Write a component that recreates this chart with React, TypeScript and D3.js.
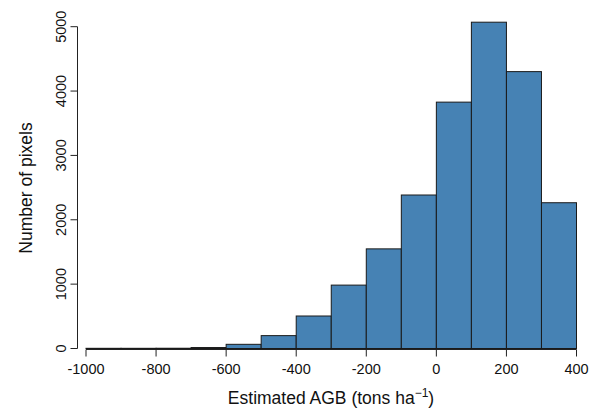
import React, { useRef, useEffect } from 'react'
import * as d3 from 'd3'

// histogram bins (tons ha^-1), width 100
const binStarts = [-1000, -900, -800, -700, -600, -500, -400, -300, -200, -100, 0, 100, 200, 300]
const counts = [3, 3, 4, 15, 65, 200, 505, 985, 1548, 2385, 3828, 5070, 4302, 2265]
const xTicks = [-1000, -800, -600, -400, -200, 0, 200, 400]
const yTicks = [0, 1000, 2000, 3000, 4000, 5000]

const W = 590
const H = 410

const App = () => {
    const ref = useRef(null)

    useEffect(() => {
        const svg = d3.select(ref.current)
        svg.selectAll('*').remove()

        const x = d3.scaleLinear().domain([-1000, 400]).range([86, 576.5])
        const y = d3.scaleLinear().domain([0, 5000]).range([348.5, 26.7])
        const font = 'Liberation Sans, Arial, Helvetica, sans-serif'

        // bars
        svg.append('g')
            .selectAll('rect')
            .data(binStarts)
            .enter()
            .append('rect')
            .attr('x', d => x(d))
            .attr('width', d => x(d + 100) - x(d))
            .attr('y', (d, i) => y(counts[i]))
            .attr('height', (d, i) => y(0) - y(counts[i]))
            .attr('fill', '#4682b4')
            .attr('stroke', '#1a1a1a')
            .attr('stroke-width', 1)

        // x axis
        const xa = svg.append('g').attr('transform', 'translate(0,349.5)')
        xa.append('line')
            .attr('x1', x(-1000)).attr('x2', x(400))
            .attr('stroke', '#222')
        xa.selectAll('.xt')
            .data(xTicks)
            .enter()
            .append('line')
            .attr('x1', d => x(d)).attr('x2', d => x(d))
            .attr('y1', 0).attr('y2', 7)
            .attr('stroke', '#222')
        xa.selectAll('.xl')
            .data(xTicks)
            .enter()
            .append('text')
            .attr('x', d => x(d))
            .attr('y', 24)
            .attr('text-anchor', 'middle')
            .attr('font-family', font)
            .attr('font-size', 14.5)
            .attr('fill', '#111')
            .text(d => String(d))

        // y axis
        const ya = svg.append('g').attr('transform', 'translate(77.5,0)')
        ya.append('line')
            .attr('y1', y(0)).attr('y2', y(5000))
            .attr('stroke', '#222')
        ya.selectAll('.yt')
            .data(yTicks)
            .enter()
            .append('line')
            .attr('y1', d => y(d)).attr('y2', d => y(d))
            .attr('x1', 0).attr('x2', -7)
            .attr('stroke', '#222')
        ya.selectAll('.yl')
            .data(yTicks)
            .enter()
            .append('text')
            .attr('transform', d => `translate(-12,${y(d)}) rotate(-90)`)
            .attr('text-anchor', 'middle')
            .attr('font-family', font)
            .attr('font-size', 14.5)
            .attr('fill', '#111')
            .text(d => String(d))

        // axis titles
        const xt = svg.append('text')
            .attr('x', 331)
            .attr('y', 404)
            .attr('text-anchor', 'middle')
            .attr('font-family', font)
            .attr('font-size', 17.5)
            .attr('fill', '#111')
        xt.append('tspan').text('Estimated AGB (tons ha')
        xt.append('tspan').attr('dy', -7).attr('font-size', 12).text('\u22121')
        xt.append('tspan').attr('dy', 7).text(')')

        svg.append('text')
            .attr('transform', `translate(32,188) rotate(-90)`)
            .attr('text-anchor', 'middle')
            .attr('font-family', font)
            .attr('font-size', 17.5)
            .attr('fill', '#111')
            .text('Number of pixels')
    }, [])

    return (
        <svg
            ref={ref}
            width={W}
            height={H}
            style={{ position: 'absolute', left: 0, top: 0, background: '#fff' }}
        />
    )
}

export default App
